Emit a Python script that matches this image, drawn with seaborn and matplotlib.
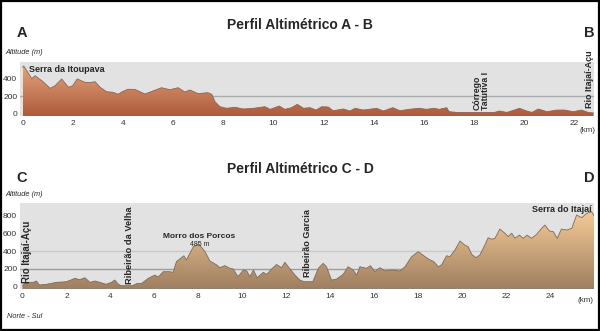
import numpy as np
import matplotlib
matplotlib.use("Agg")
import matplotlib.pyplot as plt
import seaborn as sns
from matplotlib.colors import LinearSegmentedColormap
from matplotlib.patches import Polygon, Rectangle

# ---------------- data ----------------
ab_km = [0, 0.05, 0.37, 0.5, 0.8, 1.1, 1.3, 1.56, 1.83, 2.0, 2.18, 2.48, 2.7, 2.89,
         3.1, 3.35, 3.6, 3.81, 4.0, 4.2, 4.47, 4.88, 5.2, 5.54, 5.87, 6.2, 6.47,
         6.67, 7.0, 7.2, 7.38, 7.54, 7.67, 7.87, 8.13, 8.47, 8.8, 9.2, 9.66, 9.87,
         10.23, 10.45, 10.72, 10.95, 11.2, 11.45, 11.7, 11.92, 12.18, 12.38, 12.78,
         13.05, 13.25, 13.58, 14.11, 14.38, 14.75, 15.04, 15.4, 15.8, 16.1, 16.4,
         16.6, 16.9, 17.0, 17.3, 18.0, 18.8, 19.0, 19.3, 19.6, 19.8, 20.09, 20.3,
         20.55, 20.9, 21.28, 21.6, 21.94, 22.27, 22.54, 22.75]
ab_alt = [530, 545, 400, 434, 370, 290, 320, 397, 302, 320, 397, 359, 355, 366,
          300, 251, 245, 222, 255, 279, 278, 225, 260, 297, 274, 297, 248,
          271, 229, 235, 240, 222, 137, 80, 62, 73, 54, 62, 80, 50,
          88, 50, 69, 107, 62, 69, 42, 80, 77, 34, 54,
          31, 62, 42, 62, 31, 69, 34, 50, 62, 50, 62,
          50, 69, 23, 15, 15, 15, 31, 15, 42, 62, 31, 15,
          54, 23, 42, 42, 23, 42, 15, 8]

cd_km = [0, 0.18, 0.49, 0.64, 0.77, 1.1, 1.55, 2.0, 2.39, 2.6, 2.84, 3.07, 3.3,
         3.52, 3.8, 4.05, 4.2, 4.36, 4.5, 5.0, 5.19, 5.42, 5.72, 6.02, 6.17, 6.4,
         6.7, 6.85, 7.0, 7.34, 7.45, 7.77, 7.92, 8.0, 8.15, 8.3, 8.52, 8.83, 8.98,
         9.2, 9.43, 9.58, 9.8, 10.04, 10.2, 10.34, 10.5, 10.67, 10.95, 11.1, 11.33,
         11.55, 11.78, 11.93, 12.16, 12.39, 12.61, 12.8, 13.2, 13.45, 13.67, 13.82,
         14.05, 14.28, 14.58, 14.8, 15.03, 15.19, 15.34, 15.64, 15.82, 16.02, 16.25,
         16.48, 16.78, 17.16, 17.39, 17.69, 17.99, 18.2, 18.45, 18.7, 18.9, 19.05,
         19.28, 19.43, 19.66, 19.89, 20.1, 20.26, 20.42, 20.61, 20.79, 21.02, 21.17,
         21.33, 21.48, 21.7, 21.93, 22.08, 22.24, 22.39, 22.59, 22.76, 22.94, 23.14,
         23.37, 23.6, 23.75, 23.95, 24.13, 24.31, 24.5, 24.74, 24.97, 25.19, 25.42,
         25.65, 25.87, 25.98]
cd_alt = [11, 49, 49, 64, 19, 27, 49, 56, 94, 79, 101, 49, 64,
          49, 27, 49, 75, 27, 11, 11, 34, 38, 94, 131, 109, 169,
          169, 162, 282, 349, 301, 451, 470, 485, 440, 395, 290, 245, 214,
          237, 207, 200, 113, 188, 177, 113, 188, 101, 162, 139, 200,
          250, 214, 275, 200, 131, 75, 56, 56, 207, 263, 225,
          75, 86, 139, 225, 188, 131, 225, 207, 237, 169, 214,
          177, 188, 177, 225, 338, 395, 357, 312, 282, 225, 245,
          349, 338, 413, 515, 470, 451, 365, 327, 357, 470, 552,
          535, 546, 650, 602, 565, 602, 546, 582, 545, 582, 545,
          590, 658, 695, 628, 620, 545, 650, 639, 658, 808, 778,
          827, 845, 800]

ab_xticks = list(range(0, 23, 2))
ab_yticks = [0, 200, 400]
cd_xticks = list(range(0, 25, 2))
cd_yticks = [0, 200, 400, 600, 800]

# ---------------- style ----------------
sns.set_style("white")
plt.rcParams["font.family"] = ["Liberation Sans", "DejaVu Sans"]

W, H = 600, 331
fig = plt.figure(figsize=(6, 3.31), dpi=100)
fig.patch.set_facecolor("white")


def px_axes(x0, y0, x1, y1):
    return fig.add_axes([x0 / W, 1 - y1 / H, (x1 - x0) / W, (y1 - y0) / H])


def draw_profile(ax, km, alt, xlim, ylim, gtop, c_bot, c_top, grid, xticks, yticks):
    ax.set_facecolor("#e2e2e2")
    for g, col in grid:
        ax.axhline(g, color=col, lw=1.0, zorder=1)
    xs = np.concatenate([[km[0]], km, [km[-1]]])
    ys = np.concatenate([[ylim[0]], alt, [ylim[0]]])
    poly = Polygon(np.column_stack([xs, ys]), closed=True, facecolor="none",
                   edgecolor="none", transform=ax.transData)
    ax.add_patch(poly)
    cmap = LinearSegmentedColormap.from_list("g", [c_bot, c_top])
    grad = np.linspace(0, 1, 256).reshape(-1, 1)
    im = ax.imshow(grad, extent=[km[0], km[-1], ylim[0], gtop], origin="lower",
                   aspect="auto", cmap=cmap, zorder=2, interpolation="bilinear")
    im.set_clip_path(poly)
    sns.lineplot(x=km, y=alt, ax=ax, color="#6e6e6e", lw=0.6, zorder=3)
    ax.set_xlim(xlim)
    ax.set_ylim(ylim)
    ax.set_xticks(xticks)
    ax.set_yticks(yticks)
    ax.tick_params(length=0, labelsize=6, colors="#333333", pad=2)
    ax.tick_params(axis="x", pad=3)
    for s in ax.spines.values():
        s.set_visible(False)
    ax.set_xlabel("")
    ax.set_ylabel("")


# top panel
ax1 = px_axes(20, 61.7, 594, 116)
draw_profile(ax1, ab_km, ab_alt, (-0.1, 22.77), (-26, 594), 540,
             "#ad5a3b", "#e3a37a", [(200, "#a9adb2")], ab_xticks, ab_yticks)

# bottom panel
ax2 = px_axes(20, 203.3, 594, 289)
draw_profile(ax2, cd_km, cd_alt, (-0.11, 25.98), (-26, 940), 860,
             "#9f7f60", "#f6cb98", [(200, "#9d9d9d"), (400, "#c9c9c9")],
             cd_xticks, cd_yticks)


def ftext(x, y, s, **kw):
    fig.text(x / W, 1 - y / H, s, **kw)


# titles and letters
ftext(300, 25, "Perfil Altimétrico A - B", ha="center", va="center",
      fontsize=10, fontweight="bold")
ftext(300, 169, "Perfil Altimétrico C - D", ha="center", va="center",
      fontsize=10, fontweight="bold")
ftext(22, 33, "A", ha="center", va="center", fontsize=10.5, fontweight="bold")
ftext(589, 33, "B", ha="center", va="center", fontsize=10.5, fontweight="bold")
ftext(22, 178, "C", ha="center", va="center", fontsize=10.5, fontweight="bold")
ftext(589, 178, "D", ha="center", va="center", fontsize=10.5, fontweight="bold")

ftext(5, 52, "Altitude (m)", ha="left", va="center", fontsize=5.3, style="italic")
ftext(5, 195, "Altitude (m)", ha="left", va="center", fontsize=5.3, style="italic")
ftext(595, 130, "(km)", ha="right", va="center", fontsize=5.8, color="#333333")
ftext(594, 301, "(km)", ha="right", va="center", fontsize=5.8, color="#333333")
ftext(7, 317, "Norte - Sul", ha="left", va="center", fontsize=5.3, style="italic")

# annotations top
ftext(29, 70, "Serra da Itoupava", ha="left", va="center", fontsize=6.5,
      fontweight="bold")
ftext(481, 110, "Córrego\nTatutiva I", ha="center", va="bottom", rotation=90,
      fontsize=6.3, fontweight="bold", multialignment="left", linespacing=0.95)
ftext(589, 108, "Rio Itajaí-Açu", ha="center", va="bottom", rotation=90,
      fontsize=6.5, fontweight="bold")

# annotations bottom
ftext(27, 283, "Rio Itajaí-Açu", ha="center", va="bottom", rotation=90,
      fontsize=7, fontweight="bold")
ftext(130, 284, "Ribeirão da Velha", ha="center", va="bottom", rotation=90,
      fontsize=6.7, fontweight="bold")
ftext(307.5, 277, "Ribeirão Garcia", ha="center", va="bottom", rotation=90,
      fontsize=6.6, fontweight="bold")
ftext(199.5, 237, "Morro dos Porcos", ha="center", va="center", fontsize=6,
      fontweight="bold")
ftext(200, 244.5, "485 m", ha="center", va="center", fontsize=5)
ftext(592, 210, "Serra do Itajaí", ha="right", va="center", fontsize=6.5,
      fontweight="bold")

# outer frame
fig.patches.append(Rectangle((0.0015, 0.003), 0.997, 0.994, transform=fig.transFigure,
                             fill=False, edgecolor="black", lw=1.6))

fig.savefig("out.png", dpi=100, facecolor="white")
